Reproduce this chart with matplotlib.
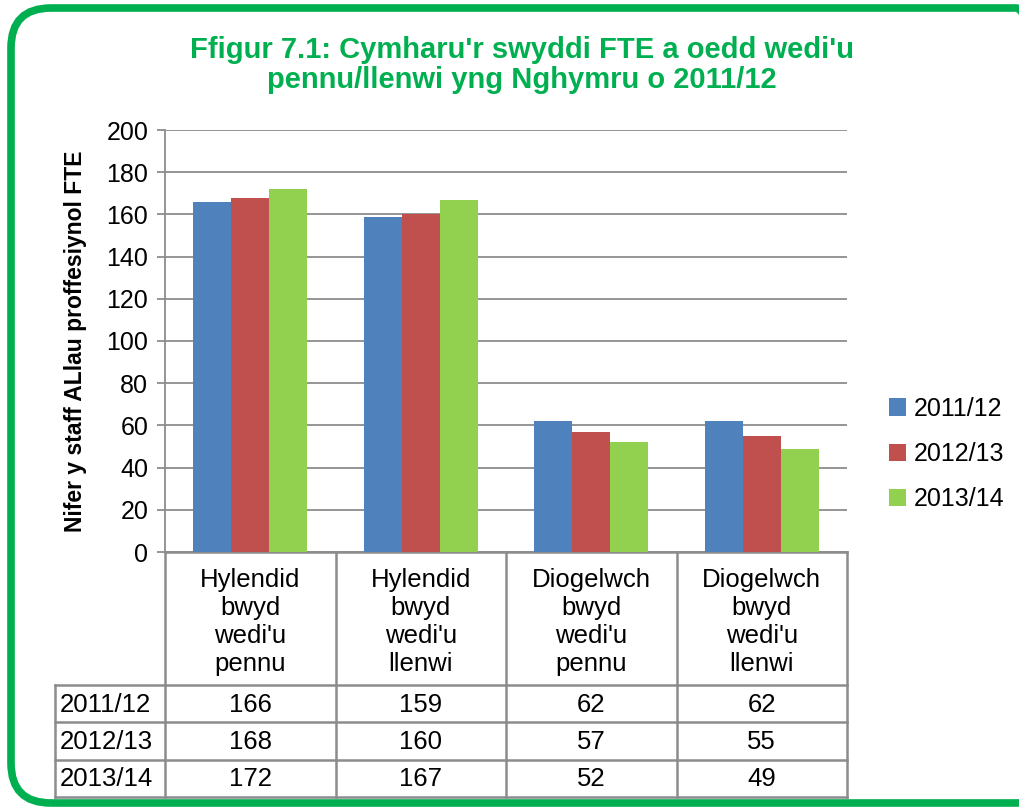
import matplotlib
matplotlib.use("Agg")
import matplotlib.pyplot as plt
import numpy as np
from matplotlib.patches import FancyBboxPatch
from matplotlib.transforms import IdentityTransform, blended_transform_factory

plt.rcParams["font.family"] = ["Liberation Sans", "DejaVu Sans"]

categories = [
    "Hylendid\nbwyd\nwedi'u\npennu",
    "Hylendid\nbwyd\nwedi'u\nllenwi",
    "Diogelwch\nbwyd\nwedi'u\npennu",
    "Diogelwch\nbwyd\nwedi'u\nllenwi",
]
series_names = ["2011/12", "2012/13", "2013/14"]
values_2011 = [166, 159, 62, 62]
values_2012 = [168, 160, 57, 55]
values_2013 = [172, 167, 52, 49]
series_values = [values_2011, values_2012, values_2013]
colors = ["#4F81BD", "#C0504D", "#92D050"]

title = "Ffigur 7.1: Cymharu'r swyddi FTE a oedd wedi'u\npennu/llenwi yng Nghymru o 2011/12"
ylabel = "Nifer y staff ALlau proffesiynol FTE"

W, H = 1019, 809
fig = plt.figure(figsize=(W / 100, H / 100), dpi=100)

# green rounded frame
frame = FancyBboxPatch((11, 6), 1045, 795, boxstyle="round,pad=0,rounding_size=40",
                       transform=IdentityTransform(), facecolor="none",
                       edgecolor="#00B050", linewidth=5.5, zorder=-1)
fig.patches.append(frame)

ax_left, ax_right, ax_top, ax_bot = 165, 847, 130, 552
ax = fig.add_axes([ax_left / W, 1 - ax_bot / H, (ax_right - ax_left) / W, (ax_bot - ax_top) / H])
ax.patch.set_alpha(0)

x = np.arange(len(categories))
bw = 0.223
for i, (name, vals) in enumerate(zip(series_names, series_values)):
    ax.bar(x + (i - 1) * bw, vals, width=bw, color=colors[i], label=name, zorder=3)

ax.set_xlim(-0.5, len(categories) - 0.5)
ax.set_ylim(0, 200)
ax.set_yticks(range(0, 201, 20))
ax.set_xticks([])
ax.grid(True, axis="y", color="#8C8C8C", linewidth=1.3, zorder=0)
for s in ["top", "right", "bottom"]:
    ax.spines[s].set_visible(False)
ax.spines["left"].set_color("#8C8C8C")
ax.spines["left"].set_linewidth(1.3)
ax.tick_params(axis="y", length=6, width=1.3, color="#8C8C8C", labelsize=18, pad=6)
ax.set_ylabel(ylabel, fontsize=16.5, fontweight="bold", labelpad=14)

fig.text(522 / W, 1 - 65 / H, title, ha="center", va="center", color="#00B050",
         fontsize=21, fontweight="bold", linespacing=1.1)

# data table under the axes
tr = blended_transform_factory(ax.transData, ax.transAxes)
axh = ax_bot - ax_top


def ya(py):
    return (ax_bot - py) / axh


row_lines = [552, 685, 722, 760, 797]
left_col = -0.5 - (ax_left - 55) / ((ax_right - ax_left) / len(categories))
lc = "#8C8C8C"
lw = 1.8
# horizontal lines
ax.plot([-0.5, len(categories) - 0.5], [ya(552)] * 2, transform=tr, color=lc, lw=lw, clip_on=False)
for py in row_lines[1:]:
    ax.plot([left_col, len(categories) - 0.5], [ya(py)] * 2, transform=tr, color=lc, lw=lw, clip_on=False)
# vertical lines
for xv in np.arange(len(categories) + 1) - 0.5:
    ax.plot([xv, xv], [ya(552), ya(797)], transform=tr, color=lc, lw=lw, clip_on=False)
ax.plot([left_col, left_col], [ya(685), ya(797)], transform=tr, color=lc, lw=lw, clip_on=False)

for xi, cat in zip(x, categories):
    ax.text(xi, ya(622), cat, transform=tr, ha="center", va="center", fontsize=18.5,
            linespacing=1.22, clip_on=False)

for r, (name, vals) in enumerate(zip(series_names, series_values)):
    yc = ya((row_lines[r + 1] + row_lines[r + 2]) / 2 + 1)
    ax.text(left_col + 0.03, yc, name, transform=tr, ha="left", va="center", fontsize=18.5,
            clip_on=False)
    for xi, v in zip(x, vals):
        ax.text(xi, yc, str(v), transform=tr, ha="center", va="center", fontsize=18.5,
                clip_on=False)

fig.legend(loc="center left", bbox_to_anchor=(866 / W, 1 - 454 / H), frameon=False,
           fontsize=18, handlelength=0.7, handleheight=0.7, handletextpad=0.3,
           labelspacing=0.85)

fig.savefig("out.png", dpi=100)
